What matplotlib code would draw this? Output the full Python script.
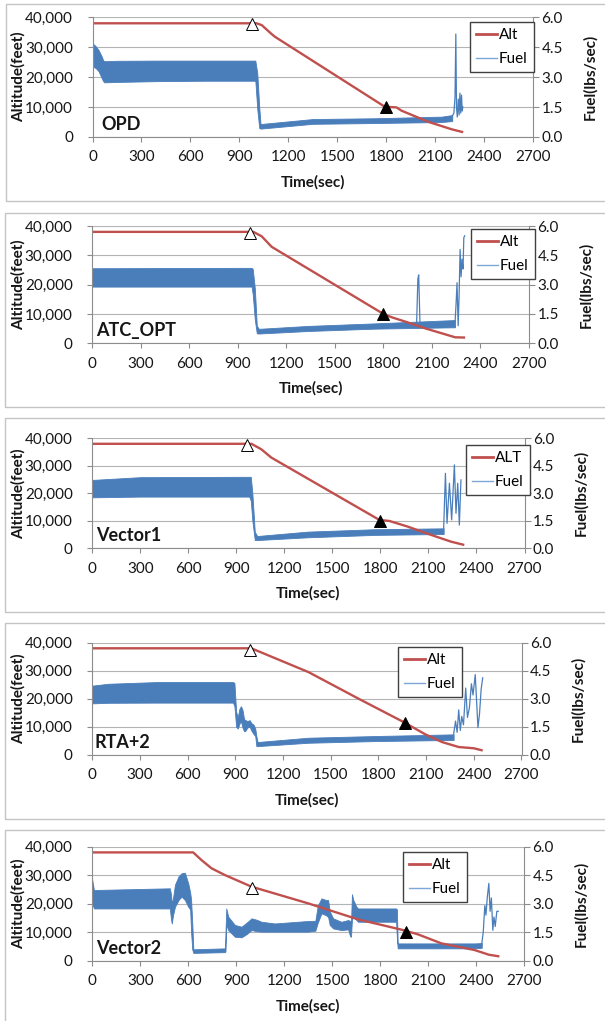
import matplotlib.pyplot as plt
from matplotlib.lines import Line2D
from matplotlib.patches import Rectangle
from matplotlib.ticker import FuncFormatter

plt.rcParams['font.family'] = ['Lato', 'DejaVu Sans']

W, H = 605, 1021
RED = '#C0504D'
BLUE = '#4A7EBB'
LEG_BLUE = '#7EA6D8'
GRID = '#b4b4b4'
SPINE = '#8c8c8c'
TXT = '#161616'

# ---- values: time (sec), altitude (feet), fuel (lbs/sec) ----

# OPD
opd_alt_t = [0, 1005, 1037, 1098, 1118, 1792, 1863, 1894, 2057, 2200, 2272]
opd_alt = [38000, 38000, 37400, 34400, 33500, 10100, 9900, 8800, 5100, 2600, 1600]
opd_tri_t = [980, 1800]
opd_tri_alt = [37600, 10000]
opd_fuel_t = [0, 20, 37, 57, 65, 73, 150, 400, 700, 998, 1010, 1022, 1030, 1350, 1730, 2140, 2205]
opd_fuel_lo = [3.55, 3.45, 3.30, 2.94, 2.80, 2.74, 2.76, 2.80, 2.82, 2.82, 1.40, 0.45, 0.42, 0.66, 0.70, 0.75, 0.80]
opd_fuel_hi = [4.70, 4.55, 4.36, 4.03, 3.85, 3.80, 3.82, 3.83, 3.83, 3.83, 3.20, 1.50, 0.65, 0.90, 0.94, 1.02, 1.10]
opd_spike_t = [2205, 2215, 2222, 2227, 2231, 2236, 2242, 2247, 2252, 2257, 2262, 2266, 2270]
opd_spike = [1.05, 1.20, 2.00, 5.16, 1.50, 1.00, 1.90, 1.10, 2.20, 1.20, 2.10, 1.30, 1.50]

# ATC_OPT
atc_alt_t = [0, 996, 1047, 1109, 1800, 1852, 1955, 2058, 2161, 2243, 2305]
atc_alt = [38000, 38000, 36500, 32900, 10000, 8860, 7040, 5100, 3400, 2050, 1950]
atc_tri_t = [975, 1800]
atc_tri_alt = [37600, 10000]
atc_fuel_t = [0, 985, 992, 1005, 1017, 1030, 1336, 1749, 2243]
atc_fuel_lo = [2.90, 2.90, 2.50, 1.20, 0.51, 0.50, 0.63, 0.75, 0.82]
atc_fuel_hi = [3.84, 3.86, 3.80, 2.80, 0.90, 0.74, 0.89, 1.02, 1.19]
atc_spike_t = [2005, 2013, 2018, 2026, 2243, 2249, 2255, 2262, 2268, 2274, 2280, 2286, 2292, 2297, 2302]
atc_spike = [1.00, 3.30, 3.50, 1.00, 1.10, 2.00, 3.10, 0.90, 2.50, 4.80, 3.40, 4.30, 3.80, 5.40, 5.50]

# Vector1
v1_alt_t = [0, 994, 1056, 1118, 1794, 1856, 1971, 2075, 2179, 2241, 2324]
v1_alt = [38000, 38000, 36000, 33000, 10300, 9940, 7880, 5700, 3640, 2420, 1210]
v1_tri_t = [967, 1800]
v1_tri_alt = [37600, 10000]
v1_fuel_t = [0, 300, 980, 990, 1000, 1015, 1030, 1347, 1763, 2195]
v1_fuel_lo = [2.78, 2.82, 2.82, 2.60, 1.50, 0.45, 0.45, 0.60, 0.73, 0.78]
v1_fuel_hi = [3.73, 3.88, 3.90, 3.90, 3.00, 0.90, 0.67, 0.91, 1.04, 1.09]
v1_spike_t = [2195, 2206, 2216, 2231, 2245, 2262, 2272, 2283, 2293, 2303]
v1_spike = [1.09, 4.09, 1.36, 3.55, 1.55, 4.55, 1.91, 3.55, 1.27, 3.73]

# RTA+2
rta_alt_t = [0, 1000, 1030, 1360, 1675, 1958, 2095, 2200, 2305, 2400, 2456]
rta_alt = [38000, 38000, 37300, 29500, 20000, 11670, 7260, 4520, 2740, 2300, 1500]
rta_tri_t = [990, 1965]
rta_tri_alt = [37400, 11500]
rta_fuel_t = [0, 100, 400, 885, 894, 905, 915, 925, 935, 945, 955, 965, 975, 990, 1000,
              1015, 1025, 1032, 1040, 1360, 1780, 2273]
rta_fuel_lo = [2.75, 2.78, 2.79, 2.79, 2.60, 1.50, 1.40, 1.65, 1.80, 1.45, 1.25, 1.30, 1.45, 1.50, 1.30,
               1.10, 1.00, 0.46, 0.46, 0.64, 0.73, 0.79]
rta_fuel_hi = [3.70, 3.80, 3.89, 3.89, 3.85, 2.30, 2.00, 2.45, 2.60, 2.40, 1.90, 1.85, 1.80, 1.85, 1.70,
               1.60, 1.40, 1.00, 0.68, 0.91, 1.00, 1.09]
rta_spike_t = [2273, 2285, 2295, 2305, 2315, 2324, 2335, 2349, 2360, 2372, 2385, 2395, 2409,
               2418, 2426, 2436, 2446, 2456]
rta_spike = [1.10, 1.80, 1.20, 2.40, 1.30, 2.05, 1.60, 3.57, 2.00, 2.50, 3.80, 3.20, 4.29,
             2.80, 1.45, 2.20, 3.50, 4.12]

# Vector2
v2_alt_t = [0, 631, 683, 746, 829, 996, 1350, 1662, 1943, 2037, 2183, 2391, 2480, 2546]
v2_alt = [38000, 38000, 35300, 32400, 30060, 25970, 20120, 14500, 10760, 9240, 6080, 3740, 2100, 1500]
v2_tri_t = [996, 1960]
v2_tri_alt = [25600, 10000]
v2_fuel_t = [0, 10, 485, 492, 497, 505, 517, 540, 558, 579, 600, 612, 618, 625, 632, 830, 833, 838,
             850, 892, 933, 965, 996, 1030, 1058, 1141, 1350, 1395, 1410, 1433, 1460, 1475, 1485,
             1506, 1558, 1600, 1612, 1618, 1624, 1632, 1652, 1662, 1900, 1905, 1910, 2391, 2436]
v2_fuel_lo = [3.00, 2.75, 2.75, 2.20, 1.96, 2.40, 2.84, 3.20, 3.37, 3.20, 2.84, 2.70, 1.50, 0.60, 0.41, 0.45, 0.50, 1.90,
              1.61, 1.26, 1.23, 1.40, 1.61, 1.55, 1.53, 1.53, 1.53, 1.58, 2.00, 2.49, 2.40, 2.30, 1.88,
              1.70, 1.61, 1.65, 1.30, 1.26, 2.20, 2.30, 2.14, 2.05, 2.05, 1.20, 0.65, 0.65, 0.68]
v2_fuel_hi = [4.24, 3.72, 3.81, 3.50, 3.00, 3.30, 4.00, 4.45, 4.60, 4.63, 4.07, 3.60, 3.20, 2.00, 0.60, 0.65, 1.50, 2.75,
              2.32, 1.88, 1.79, 2.00, 2.23, 2.15, 2.05, 1.96, 2.09, 2.10, 2.90, 3.28, 3.20, 3.19, 2.60,
              2.23, 2.05, 2.14, 2.10, 2.00, 3.50, 3.20, 2.84, 2.75, 2.75, 2.70, 0.91, 0.91, 0.93]
v2_spike_t = [2436, 2445, 2455, 2462, 2470, 2480, 2488, 2496, 2505, 2512, 2520, 2530, 2539]
v2_spike = [0.90, 1.50, 2.90, 2.40, 3.30, 4.07, 2.60, 3.30, 1.60, 2.30, 1.80, 2.60, 2.60]

# ---- page layout in pixels: panel frame (l, t, r, b), plot area (l, t, r, b), legend corner ----
layout = [
    dict(name='OPD', alt_name='Alt', frame=(5.5, 4, 620, 200.7), area=(92.5, 17.3, 533, 137),
         name_dx=8.5, legend=(470, 22)),
    dict(name='ATC_OPT', alt_name='Alt', frame=(5, 213, 620, 407), area=(92.3, 226, 529, 343.3),
         name_dx=4, legend=(471, 229)),
    dict(name='Vector1', alt_name='ALT', frame=(5, 418, 620, 612), area=(92.3, 438.3, 524.5, 548.3),
         name_dx=4, legend=(466, 445)),
    dict(name='RTA+2', alt_name='Alt', frame=(5, 623, 620, 819), area=(92.3, 642.7, 521.5, 754.7),
         name_dx=2.5, legend=(398, 647)),
    dict(name='Vector2', alt_name='Alt', frame=(5, 830, 620, 1040), area=(92.3, 846.7, 524, 960.7),
         name_dx=3.5, legend=(403, 852)),
]
series = [
    (opd_alt_t, opd_alt, opd_tri_t, opd_tri_alt, opd_fuel_t, opd_fuel_lo, opd_fuel_hi, opd_spike_t, opd_spike),
    (atc_alt_t, atc_alt, atc_tri_t, atc_tri_alt, atc_fuel_t, atc_fuel_lo, atc_fuel_hi, atc_spike_t, atc_spike),
    (v1_alt_t, v1_alt, v1_tri_t, v1_tri_alt, v1_fuel_t, v1_fuel_lo, v1_fuel_hi, v1_spike_t, v1_spike),
    (rta_alt_t, rta_alt, rta_tri_t, rta_tri_alt, rta_fuel_t, rta_fuel_lo, rta_fuel_hi, rta_spike_t, rta_spike),
    (v2_alt_t, v2_alt, v2_tri_t, v2_tri_alt, v2_fuel_t, v2_fuel_lo, v2_fuel_hi, v2_spike_t, v2_spike),
]

fig = plt.figure(figsize=(W / 100, H / 100), dpi=100)


def fx(px):
    return px / W


def fy(py):
    return 1 - py / H


for lay, (alt_t, alt, tri_t, tri_alt, f_t, f_lo, f_hi, sp_t, sp) in zip(layout, series):
    fl, ft, fr, fb = lay['frame']
    fig.add_artist(Rectangle((fx(fl), fy(fb)), fx(fr - fl), (fb - ft) / H, transform=fig.transFigure,
                             fill=False, ec='#c4c4c4', lw=1.0))

    l, t, r, b = lay['area']
    rect = [fx(l), fy(b), fx(r - l), (b - t) / H]

    # fuel on the bottom layer, right hand scale
    axF = fig.add_axes(rect)
    axF.set_xlim(0, 2700)
    axF.set_ylim(0, 6)
    axF.yaxis.tick_right()
    axF.set_yticks([0, 1.5, 3.0, 4.5, 6.0])
    axF.yaxis.set_major_formatter(FuncFormatter(lambda v, p: f'{v:.1f}'))
    axF.grid(axis='y', color=GRID, lw=0.8)
    axF.set_axisbelow(True)
    axF.tick_params(axis='x', bottom=False, labelbottom=False)
    axF.tick_params(axis='y', right=True, length=4, width=0.8, color=SPINE, pad=2,
                    labelsize=11, labelcolor=TXT)
    for s in ['top', 'left', 'bottom']:
        axF.spines[s].set_visible(False)
    axF.spines['right'].set_color(SPINE)
    axF.fill_between(f_t, f_lo, f_hi, color=BLUE, ec=BLUE, lw=0.6)
    axF.plot(sp_t, sp, color=BLUE, lw=0.9)

    # altitude on top, left hand scale
    axA = fig.add_axes(rect)
    axA.patch.set_visible(False)
    axA.set_xlim(0, 2700)
    axA.set_ylim(0, 40000)
    axA.plot(alt_t, alt, color=RED, lw=1.7, solid_capstyle='butt')
    axA.plot(tri_t[:1], tri_alt[:1], '^', ms=9, mfc='white', mec='black', mew=0.7)
    axA.plot(tri_t[1:], tri_alt[1:], '^', ms=9, mfc='black', mec='black', mew=0.7)
    axA.set_xticks(range(0, 2701, 300))
    axA.set_yticks(range(0, 40001, 10000))
    axA.yaxis.set_major_formatter(FuncFormatter(lambda v, p: f'{v:,.0f}'))
    for s in ['top', 'right']:
        axA.spines[s].set_visible(False)
    for s in ['left', 'bottom']:
        axA.spines[s].set_color(SPINE)
    axA.tick_params(axis='y', length=3.6, width=0.8, color=SPINE, pad=10.5, labelsize=11, labelcolor=TXT)
    axA.tick_params(axis='x', length=3.6, width=0.8, color=SPINE, pad=6, labelsize=11, labelcolor=TXT)

    handles = [Line2D([], [], color=RED, lw=2.0), Line2D([], [], color=LEG_BLUE, lw=1.0)]
    lx, ly = lay['legend']
    leg = axA.legend(handles, [lay['alt_name'], 'Fuel'], loc='upper left',
                     bbox_to_anchor=(fx(lx), fy(ly)), bbox_transform=fig.transFigure,
                     fancybox=False, edgecolor='#404040', framealpha=1, borderaxespad=0,
                     fontsize=11, handlelength=1.35, handletextpad=0.15, borderpad=0.4,
                     labelspacing=0.65)
    leg.get_frame().set_linewidth(1.0)

    fig.text(fx(l + lay['name_dx']), fy(b - 12.5), lay['name'], ha='left', va='center',
             fontsize=13, fontweight='bold', color=TXT)
    fig.text(fx(18.5), fy((t + b) / 2), 'Altitude(feet)', rotation=90, ha='center', va='center',
             fontsize=11, fontweight='bold', color=TXT)
    fig.text(fx(r + 57), fy((t + b) / 2), 'Fuel(lbs/sec)', rotation=90, ha='center', va='center',
             fontsize=11, fontweight='bold', color=TXT)
    fig.text(fx((l + r) / 2), fy(b + 45.5), 'Time(sec)', ha='center', va='center',
             fontsize=11, fontweight='bold', color=TXT)

fig.savefig('out.png', dpi=100)
